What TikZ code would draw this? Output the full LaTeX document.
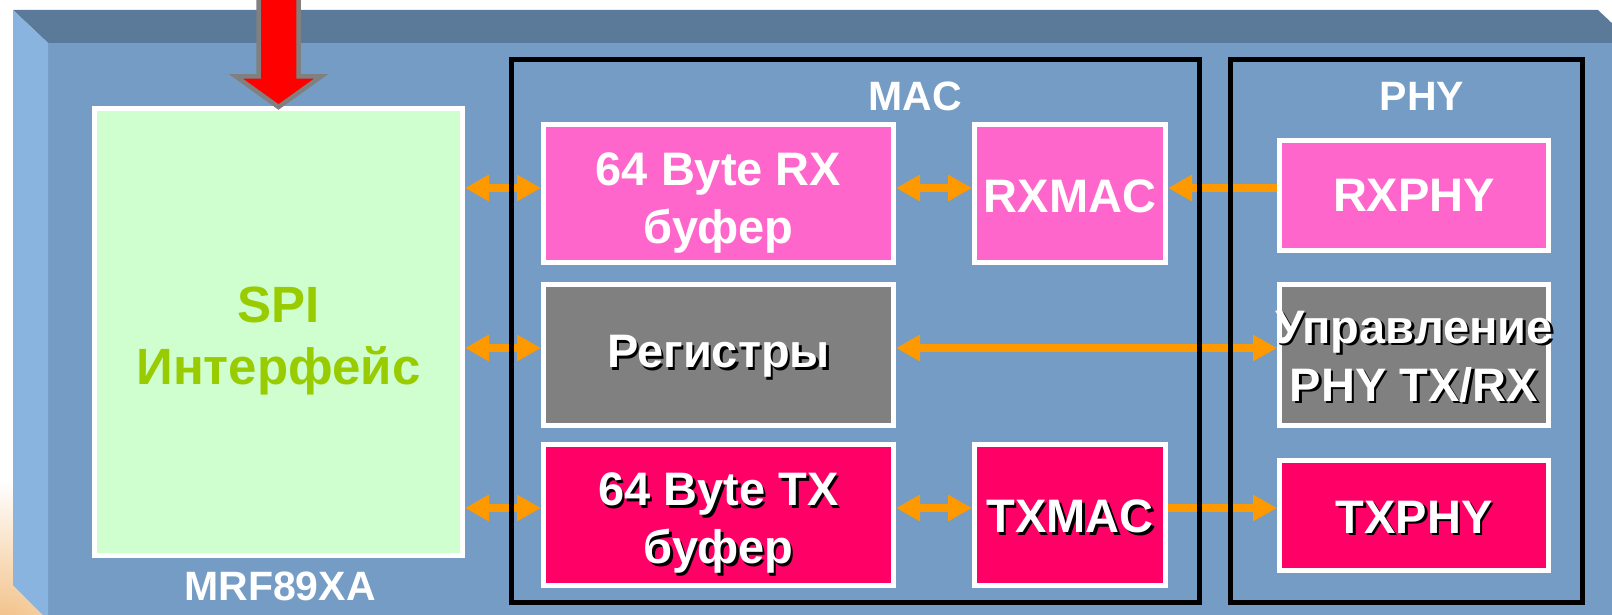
\documentclass[tikz,border=0pt]{standalone}
\usepackage{fontspec}
\setmainfont{Liberation Sans}
\usetikzlibrary{arrows.meta}
\definecolor{face}{RGB}{117,156,197}
\definecolor{topface}{RGB}{91,122,154}
\definecolor{sideface}{RGB}{138,180,224}
\definecolor{spigreen}{RGB}{207,255,207}
\definecolor{spitext}{RGB}{153,204,0}
\definecolor{lpink}{RGB}{255,102,204}
\definecolor{dpink}{RGB}{255,0,102}
\definecolor{boxgray}{RGB}{128,128,128}
\definecolor{arrorange}{RGB}{255,153,0}
\definecolor{arrgray}{RGB}{128,128,128}
\definecolor{glow}{RGB}{240,185,120}
\newcommand{\shd}[1]{\makebox[0pt][l]{\hspace{2.5pt}\raisebox{-2.5pt}{\color{black}#1}}#1}
\newcommand{\lowone}{\rule{0pt}{38pt}}
\newcommand{\lowtwo}{\rule{0pt}{52pt}}
\begin{document}
\begin{tikzpicture}[x=1pt,y=-1pt,
  blk/.style={draw=white,line width=5pt,inner sep=0pt,align=center,text=white,
    font=\fontsize{47}{58}\selectfont\bfseries},
  rowbox/.style={blk,minimum width=350pt,minimum height=141pt},
  macbox/.style={blk,minimum width=191pt,minimum height=141pt},
  phybox/.style={blk,minimum width=269pt,minimum height=110pt},
  lbl/.style={inner sep=0pt,text=white,font=\fontsize{41}{48}\selectfont\bfseries},
  frame/.style={draw=black,line width=5pt,inner sep=0pt},
  biarr/.style={draw=arrorange,line width=8pt,
    {Triangle[length=24pt,width=25pt]}-{Triangle[length=24pt,width=25pt]}},
  onearr/.style={draw=arrorange,line width=8pt,-{Triangle[length=24pt,width=25pt]}},
  redarrow/.style={fill=red,draw=arrgray,line width=4.5pt,line join=miter}
]
\useasboundingbox (0,0) rectangle (1612,615);
\clip (0,0) rectangle (1612,615);
\fill[white] (0,0) rectangle (1612,615);
\shade[inner color=glow,outer color=white] (0,640) circle (160);
% 3D panel
\fill[face] (48,43) rectangle (1650,640);
\fill[topface] (13,10) -- (1598,10) -- (1633,43) -- (48,43) -- cycle;
\fill[sideface] (13,10) -- (48,43) -- (48,620) -- (13,585) -- cycle;
% blocks
\node[blk,fill=spigreen,text=spitext,minimum width=368pt,minimum height=447pt,
  font=\fontsize{51}{62}\selectfont\bfseries] (spi) at (278.5,332) {\rule{0pt}{53pt}SPI\\Интерфейс};
\node[rowbox,fill=lpink,minimum height=138pt] (rxbuf) at (718.5,193.5) {\lowtwo 64 Byte RX\\буфер};
\node[macbox,fill=lpink,minimum height=138pt] (rxmac) at (1070,193.5) {\lowone RXMAC};
\node[phybox,fill=lpink] (rxphy) at (1414,195.5) {RXPHY};
\node[rowbox,fill=boxgray] (reg) at (718.5,355) {\lowone\shd{Регистры}};
\node[phybox,fill=boxgray,minimum height=141pt] (phyctl) at (1414,355)
  {\lowone\makebox[0pt]{\shd{Управление}}\\\makebox[0pt]{\shd{PHY TX/RX}}};
\node[rowbox,fill=dpink] (txbuf) at (718.5,515) {\lowtwo\shd{64 Byte TX}\\\shd{буфер}};
\node[macbox,fill=dpink] (txmac) at (1070,515) {\lowone\shd{TXMAC}};
\node[phybox,fill=dpink] (txphy) at (1414,515.5) {\lowone\shd{TXPHY}};
% row levels
\coordinate (r1) at (0,188);
\coordinate (r2) at (0,348);
\coordinate (r3) at (0,508);
% connectors
\draw[biarr] (spi.east |- r1) -- (rxbuf.west |- r1);
\draw[biarr] (rxbuf.east |- r1) -- (rxmac.west |- r1);
\draw[onearr] (rxphy.west |- r1) -- (rxmac.east |- r1);
\draw[biarr] (spi.east |- r2) -- (reg.west |- r2);
\draw[biarr] (reg.east |- r2) -- (phyctl.west |- r2);
\draw[biarr] (spi.east |- r3) -- (txbuf.west |- r3);
\draw[biarr] (txbuf.east |- r3) -- (txmac.west |- r3);
\draw[onearr] (txmac.east |- r3) -- (txphy.west |- r3);
% frames
\node[frame,minimum width=688pt,minimum height=542.5pt] (mac) at (855,330.75) {};
\node[frame,minimum width=352pt,minimum height=542.5pt] (phy) at (1406,330.75) {};
\node[lbl] (maclbl) at (915,96) {MAC};
\node[lbl] (phylbl) at (1422,96) {PHY};
\node[lbl] (mrf) at (280,586) {MRF89XA};
% red input arrow
\draw[redarrow] (258.5,-20) -- (258.5,76.5) -- (236,76.5) -- (278.5,107) -- (321,76.5)
  -- (298.5,76.5) -- (298.5,-20) -- cycle;
\end{tikzpicture}
\end{document}
